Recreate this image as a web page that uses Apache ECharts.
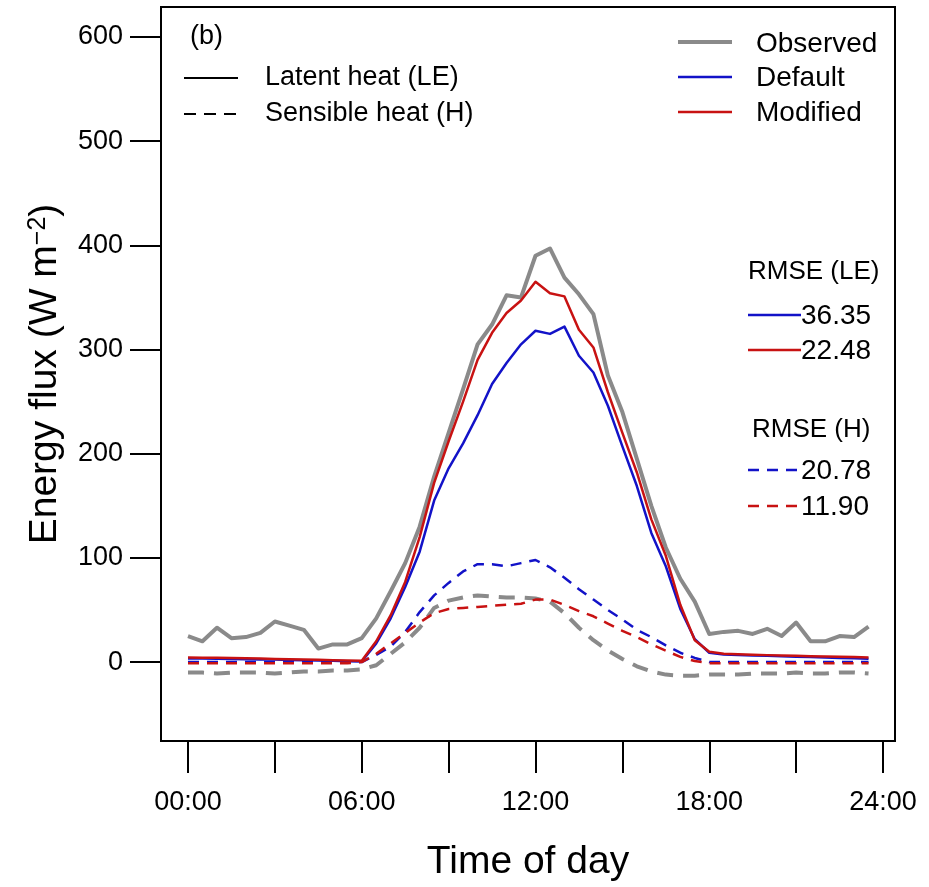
<!DOCTYPE html>
<html>
<head>
<meta charset="utf-8">
<script src="https://cdn.jsdelivr.net/npm/echarts@6/dist/echarts.min.js"></script>
<style>
html,body{margin:0;padding:0;background:#fff;}
#chart{width:929px;height:887px;}
</style>
</head>
<body>
<div id="chart"></div>
<script>
// Half-hourly time steps (hours of day), 00:00 .. 23:30
var hours = [];
for (var i = 0; i < 48; i++) hours.push(i * 0.5);

// Latent heat (LE), W m-2
var obsLE = [25,20,33,23,24,28,39,35,31,13,17,17,23,42,68,95,130,178,220,262,305,324,352,350,
             390,397,369,353,334,275,240,195,150,110,80,58,27,29,30,27,32,25,38,20,20,25,24,34];
var defLE = [3.5,3.4,3.2,3,2.8,2.6,2.4,2.1,1.8,1.5,1.2,0.9,0.6,18,42,72,106,155,186,210,237,267,287,305,
             318,315,322,294,278,246,207,169,124,92,51,22,9,7.2,6.8,6.4,6,5.6,5.2,4.8,4.4,4,3.6,3.2];
var modLE = [4.5,4.3,4.1,3.9,3.7,3.4,3.1,2.8,2.5,2.2,1.9,1.6,1.3,20,45,77,120,172,212,250,290,316,335,347,
             365,354,351,319,302,259,220,182,137,102,55,21,10,8,7.5,7,6.7,6.4,6,5.7,5.4,5.1,4.8,4.5];

// Sensible heat (H), W m-2
var obsH = [-10,-10,-11,-10,-10,-10,-11,-10,-9,-9,-8,-8,-7,-3,8,19,33,52,59,62,64,63,62,62,
            61,58,47,33,21,11,3,-4,-9,-12,-13,-13,-12,-12,-12,-11,-11,-11,-10,-11,-11,-10,-10,-11];
var defH = [0,0,0,0,0,0,0,0,0,0,0,0,0,7,15,29,48,64,76,87,94,94,92,95,
            98,91,81,70,60,50,41,31,24,16,9,4,0,0,0,0,0,0,0,0,0,0,0,0];
var modH = [-1,-1,-1,-1,-1,-1,-1,-1,-1,-1,-1,-1,0,8,18,28,38,47,51,52,53,54,55,56,
            60,60,55,49,44,37,30,24,17,11,5,1,-1,-1,-1,-1,-1,-1,-1,-1,-1,-1,-1,-1];

var yTicks = [0,100,200,300,400,500,600];
var xTicks = [0,3,6,9,12,15,18,21,24];
var xLabels = [0,6,12,18,24];

var legendLines = ['Latent heat (LE)', 'Sensible heat (H)'];
var legendRuns = ['Observed', 'Default', 'Modified'];
var rmseLE = ['36.35', '22.48'];
var rmseH = ['20.78', '11.90'];

var C_OBS = '#8a8a8a', C_DEF = '#1212c8', C_MOD = '#c81212';
var FONT = '"Liberation Sans", Arial, sans-serif';

function pairs(vals){ return vals.map(function(v,i){ return [hours[i], v]; }); }
function pad(h){ return (h < 10 ? '0' : '') + h + ':00'; }

function mkSeries(name, vals, color, width, dash){
  return {
    name: name, type: 'line', data: pairs(vals), symbol: 'none', clip: false,
    lineStyle: {color: color, width: width, type: dash ? dash : 'solid', cap: 'butt', join: 'round'},
    animation: false
  };
}

function gLine(x1,y1,x2,y2,color,w,dash){
  return {type:'line', shape:{x1:x1,y1:y1,x2:x2,y2:y2},
          style:{stroke:color, lineWidth:w, lineDash: dash || null}, silent:true};
}
function gText(x,y,t,size,align){
  return {type:'text', x:x, y:y, silent:true,
          style:{text:t, font: size + 'px ' + FONT, fill:'#000', align: align || 'left', verticalAlign:'middle'}};
}

var chart = echarts.init(document.getElementById('chart'), null, {renderer:'canvas'});
chart.setOption({
  animation: false,
  backgroundColor: '#fff',
  grid: {left:161, top:7, width:734, height:735, show:true, borderColor:'#000', borderWidth:2, backgroundColor:'transparent'},
  xAxis: {
    type:'value', min:-0.932, max:24.414,
    axisLine:{show:false, onZero:false},
    splitLine:{show:false},
    axisTick:{show:true, inside:false, length:32, lineStyle:{color:'#000', width:2}, customValues:xTicks},
    axisLabel:{customValues:xLabels, formatter:function(v){return pad(Math.round(v));},
               fontSize:27, fontFamily:FONT, color:'#000', margin:48},
    name:'Time of day', nameLocation:'middle', nameGap:102,
    nameTextStyle:{fontSize:39, fontFamily:FONT, color:'#000'}
  },
  yAxis: {
    type:'value', min:-75.72, max:628.75,
    axisLine:{show:false, onZero:false},
    splitLine:{show:false},
    axisTick:{show:true, inside:false, length:31, lineStyle:{color:'#000', width:2}, customValues:yTicks},
    axisLabel:{customValues:yTicks, fontSize:27, fontFamily:FONT, color:'#000', margin:38},
    name:'{a|Energy flux (W m}{s|\u22122}{a|)}', nameLocation:'middle', nameGap:96,
    nameTextStyle:{fontSize:39, fontFamily:FONT, color:'#000',
      rich:{a:{fontSize:39, fontFamily:FONT, color:'#000', verticalAlign:'bottom'},
            s:{fontSize:25, fontFamily:FONT, color:'#000', verticalAlign:'top'}}}
  },
  series: [
    mkSeries('Observed LE', obsLE, C_OBS, 4),
    mkSeries('Observed H', obsH, C_OBS, 4, [16,10]),
    mkSeries('Default LE', defLE, C_DEF, 2.5),
    mkSeries('Default H', defH, C_DEF, 2.5, [11,8]),
    mkSeries('Modified LE', modLE, C_MOD, 2.5),
    mkSeries('Modified H', modH, C_MOD, 2.5, [11,8])
  ],
  graphic: [
    gText(190, 37, '(b)', 27),
    gLine(184, 78, 238, 78, '#000', 2),
    gText(265, 78, legendLines[0], 27),
    gLine(184, 114, 238, 114, '#000', 2, [12,8]),
    gText(265, 114, legendLines[1], 27),

    gLine(678, 42, 732, 42, C_OBS, 4),
    gText(756, 44, legendRuns[0], 28),
    gLine(678, 77, 732, 77, C_DEF, 2.5),
    gText(756, 78, legendRuns[1], 28),
    gLine(678, 112, 732, 112, C_MOD, 2.5),
    gText(756, 113, legendRuns[2], 28),

    gText(748, 272, 'RMSE (LE)', 26),
    gLine(748, 315, 801, 315, C_DEF, 2.5),
    gText(801, 316, rmseLE[0], 28),
    gLine(748, 350, 801, 350, C_MOD, 2.5),
    gText(801, 351, rmseLE[1], 28),

    gText(752, 430, 'RMSE (H)', 26),
    gLine(748, 470, 801, 470, C_DEF, 2.5, [11,8]),
    gText(801, 471, rmseH[0], 28),
    gLine(748, 506, 801, 506, C_MOD, 2.5, [11,8]),
    gText(801, 507, rmseH[1], 28)
  ]
});
</script>
</body>
</html>
